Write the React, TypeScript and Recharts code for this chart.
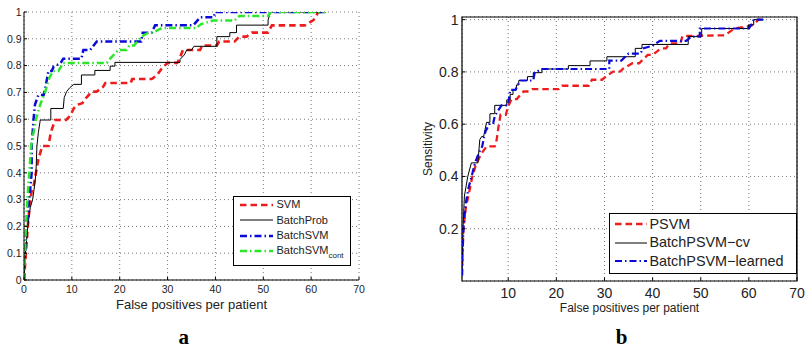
import type { ReactNode } from "react";
import {
  LineChart,
  Line,
  XAxis,
  YAxis,
  CartesianGrid,
  Legend,
  ReferenceArea,
  Label,
} from "recharts";

type Pt = [number, number]; // [false positives per patient, sensitivity]

// Panel a: four detectors
const svmA: Pt[] = [
  [0, 0], [0.4, 0.1], [0.8, 0.2], [1.2, 0.28], [1.6, 0.33], [2.0, 0.35], [2.5, 0.4],
  [3.0, 0.45], [3.8, 0.5], [5.1, 0.5], [5.6, 0.55], [6.5, 0.597], [8.8, 0.597],
  [9.6, 0.612], [10.4, 0.64], [11, 0.653], [12.2, 0.66], [13, 0.68], [14.2, 0.703],
  [15.2, 0.703], [16.5, 0.72], [17, 0.735], [22.3, 0.735], [22.6, 0.75], [26.7, 0.75],
  [27.8, 0.765], [28.8, 0.79], [30, 0.81], [32, 0.81], [32.5, 0.825], [33.2, 0.858],
  [36.8, 0.858], [37.2, 0.875], [40.3, 0.875], [40.8, 0.89], [44, 0.89], [45, 0.908],
  [46.5, 0.908], [47.6, 0.923], [51, 0.923], [51.8, 0.95], [58.7, 0.95], [60.5, 0.97],
  [61.5, 1], [63, 1],
];
const batchProbA: Pt[] = [
  [0, 0], [0.3, 0.1], [0.8, 0.2], [1.3, 0.27], [1.8, 0.3], [2.2, 0.35], [2.5, 0.4],
  [2.7, 0.5], [3.0, 0.55], [3.4, 0.597], [5.6, 0.597], [5.6, 0.64], [8.2, 0.64],
  [8.4, 0.68], [8.9, 0.703], [9.6, 0.718], [10.4, 0.73], [12, 0.73], [12, 0.765],
  [14.8, 0.765], [14.8, 0.782], [18, 0.782], [18, 0.798], [19, 0.798], [19, 0.812],
  [32.6, 0.812], [32.6, 0.823], [33.5, 0.84], [34, 0.858], [35, 0.858], [35.5, 0.872],
  [40.3, 0.872], [40.3, 0.908], [43, 0.908], [43, 0.923], [44.4, 0.923], [44.4, 0.951],
  [51, 0.951], [51, 0.97], [51.5, 1], [63, 1],
];
const batchSvmA: Pt[] = [
  [0, 0], [0.2, 0.1], [0.55, 0.2], [0.9, 0.27], [1.25, 0.33], [1.6, 0.4], [1.6, 0.5],
  [2.0, 0.6], [2.3, 0.655], [3.0, 0.69], [4.1, 0.69], [4.5, 0.72], [4.8, 0.75],
  [5.1, 0.78], [5.8, 0.78], [6.2, 0.796], [7.6, 0.808], [8.2, 0.826], [12, 0.826],
  [12.4, 0.858], [13.8, 0.858], [15.2, 0.89], [24.5, 0.89], [24.8, 0.923], [26.7, 0.923],
  [27.4, 0.951], [35.4, 0.951], [36.8, 0.98], [39.6, 0.98], [40, 1], [63, 1],
];
const batchSvmContA: Pt[] = [
  [0, 0], [0.2, 0.1], [0.4, 0.2], [0.7, 0.3], [1.1, 0.4], [1.5, 0.5], [2.5, 0.6],
  [3.3, 0.65], [4.4, 0.7], [5.3, 0.755], [6.1, 0.78], [7.2, 0.78], [8.2, 0.81],
  [17.3, 0.81], [18, 0.826], [19.7, 0.858], [21.4, 0.858], [22, 0.875], [23, 0.875],
  [24.5, 0.908], [26, 0.923], [27, 0.923], [28.8, 0.94], [36, 0.94], [37, 0.955],
  [39.5, 0.968], [44, 0.968], [45, 0.985], [51, 0.985], [51.5, 1], [63, 1],
];

// Panel b: PSVM variants
const psvmB: Pt[] = [
  [0.4, 0.02], [0.5, 0.1], [0.7, 0.2], [1.2, 0.28], [1.9, 0.34], [2.5, 0.395],
  [3.2, 0.44], [4.3, 0.484], [5.5, 0.515], [7.2, 0.515], [7.6, 0.54], [8, 0.592],
  [8.4, 0.636], [9.5, 0.636], [10, 0.669], [10.7, 0.696], [11.8, 0.696], [12.6, 0.714],
  [13.2, 0.725], [14.3, 0.725], [15, 0.734], [20.5, 0.734], [21.2, 0.747], [26.7, 0.747],
  [27.4, 0.77], [29.5, 0.77], [30.5, 0.785], [31.8, 0.801], [33.2, 0.801], [34, 0.814],
  [35.8, 0.833], [37.2, 0.833], [39, 0.865], [40, 0.865], [41.7, 0.89], [42.8, 0.89],
  [43.5, 0.909], [45.8, 0.909], [46.2, 0.937], [55, 0.94], [57, 0.966], [59.5, 0.973],
  [61, 0.98], [62, 1], [63, 1],
];
const batchPsvmCvB: Pt[] = [
  [0.4, 0.02], [0.5, 0.1], [0.6, 0.2], [0.9, 0.325], [1.6, 0.4], [2.35, 0.452],
  [3.7, 0.452], [4.1, 0.541], [4.5, 0.553], [4.9, 0.553], [5.5, 0.607], [6.2, 0.607],
  [6.2, 0.64], [7.2, 0.64], [7.2, 0.672], [9.7, 0.672], [9.7, 0.693], [10.4, 0.693],
  [10.4, 0.714], [11, 0.714], [11, 0.731], [11.7, 0.731], [11.7, 0.75], [12.2, 0.75],
  [12.2, 0.767], [14, 0.767], [14, 0.782], [15.2, 0.782], [15.2, 0.797], [17, 0.797],
  [17, 0.811], [22.5, 0.811], [22.5, 0.824], [27, 0.824], [27, 0.842], [30.5, 0.842],
  [30.5, 0.858], [36.4, 0.858], [36.4, 0.89], [37.8, 0.89], [37.8, 0.905], [47.4, 0.905],
  [47.4, 0.935], [50.2, 0.935], [50.2, 0.966], [59.9, 0.966], [59.9, 0.98], [61, 0.98],
  [61, 1], [63, 1],
];
const batchPsvmLearnedB: Pt[] = [
  [0.4, 0.02], [0.5, 0.1], [0.7, 0.2], [1.2, 0.3], [1.8, 0.36], [2.4, 0.4], [3.1, 0.452],
  [3.9, 0.49], [4.6, 0.515], [5, 0.553], [5.3, 0.573], [6.2, 0.605], [6.9, 0.605],
  [7.2, 0.63], [8, 0.655], [8.6, 0.672], [9.9, 0.672], [10.2, 0.7], [10.4, 0.731],
  [11.5, 0.731], [12, 0.75], [12.5, 0.767], [15.2, 0.767], [15.5, 0.797], [17, 0.811],
  [31, 0.811], [31, 0.843], [33.5, 0.843], [35, 0.87], [37.5, 0.87], [38, 0.89],
  [40, 0.9], [41.5, 0.919], [47, 0.919], [48, 0.935], [49.8, 0.935], [49.8, 0.966],
  [60, 0.966], [60.5, 0.98], [61, 1], [63, 1],
];

const xTicksA = [0, 10, 20, 30, 40, 50, 60, 70];
const yTicksA = [0, 0.1, 0.2, 0.3, 0.4, 0.5, 0.6, 0.7, 0.8, 0.9, 1];
const xTicksB = [10, 20, 30, 40, 50, 60, 70];
const yTicksB = [0.2, 0.4, 0.6, 0.8, 1];

const FONT = '"Liberation Sans", Arial, Helvetica, sans-serif';
const RED = "#ee1c1c";
const BLUE = "#0a0ad8";
const GREEN = "#2be62b";
const DASH = "6.5 4";
const DASH_DOT = "7 3 1.5 3";

interface Series {
  key: string;
  label: ReactNode;
  pts: Pt[];
  color: string;
  width: number;
  dash?: string;
}

const seriesA: Series[] = [
  { key: "svm", label: "SVM", pts: svmA, color: RED, width: 2.6, dash: DASH },
  { key: "batchProb", label: "BatchProb", pts: batchProbA, color: "#000", width: 1 },
  { key: "batchSvm", label: "BatchSVM", pts: batchSvmA, color: BLUE, width: 2.5, dash: DASH_DOT },
  {
    key: "batchSvmCont",
    label: (
      <>
        BatchSVM
        <span style={{ fontSize: 8, position: "relative", top: 4 }}>cont</span>
      </>
    ),
    pts: batchSvmContA,
    color: GREEN,
    width: 2.5,
    dash: DASH_DOT,
  },
];

const seriesB: Series[] = [
  { key: "psvm", label: "PSVM", pts: psvmB, color: RED, width: 2.3, dash: DASH },
  { key: "cv", label: "BatchPSVM−cv", pts: batchPsvmCvB, color: "#000", width: 1 },
  { key: "learned", label: "BatchPSVM−learned", pts: batchPsvmLearnedB, color: BLUE, width: 2.2, dash: DASH_DOT },
];

const toRows = (pts: Pt[]) => pts.map(([fp, sens]) => ({ fp, sens }));

// MATLAB-style ticks: short marks pointing into the plot, labels outside
function bottomTick(fontSize: number, gap: number, len: number) {
  return function BottomTick(props: any) {
    const { x, y, payload } = props;
    return (
      <g>
        <line x1={x} x2={x} y1={y} y2={y - len} stroke="#000" />
        <text x={x} y={y + gap} dy="0.71em" textAnchor="middle" fontSize={fontSize} fontFamily={FONT} fill="#222">
          {String(payload.value)}
        </text>
      </g>
    );
  };
}

function leftTick(fontSize: number, gap: number, len: number) {
  return function LeftTick(props: any) {
    const { x, y, payload } = props;
    return (
      <g>
        <line x1={x} x2={x + len} y1={y} y2={y} stroke="#000" />
        <text x={x - gap} y={y} dy="0.355em" textAnchor="end" fontSize={fontSize} fontFamily={FONT} fill="#222">
          {String(payload.value)}
        </text>
      </g>
    );
  };
}

// marks only, for the top and right edges of the boxed panel
const topMark = (len: number) =>
  function TopMark(props: any) {
    return <line x1={props.x} x2={props.x} y1={props.y} y2={props.y + len} stroke="#000" />;
  };
const rightMark = (len: number) =>
  function RightMark(props: any) {
    return <line x1={props.x} x2={props.x - len} y1={props.y} y2={props.y} stroke="#000" />;
  };

function LegendBox({
  series,
  width,
  height,
  rowH,
  fontSize,
  padTop,
  sampleLeft,
  sampleW,
  gap,
}: {
  series: Series[];
  width: number;
  height: number;
  rowH: number;
  fontSize: number;
  padTop: number;
  sampleLeft: number;
  sampleW: number;
  gap: number;
}) {
  return (
    <div
      style={{
        boxSizing: "border-box",
        width,
        height,
        border: "1.5px solid #000",
        background: "#fff",
        paddingTop: padTop,
        fontFamily: FONT,
        fontSize,
        color: "#222",
      }}
    >
      {series.map((s) => (
        <div key={s.key} style={{ display: "flex", alignItems: "center", height: rowH, whiteSpace: "nowrap" }}>
          <svg width={sampleW} height={6} style={{ marginLeft: sampleLeft, marginRight: gap, flex: "none" }}>
            <line x1={0} x2={sampleW} y1={3} y2={3} stroke={s.color} strokeWidth={s.width} strokeDasharray={s.dash} />
          </svg>
          <span style={{ lineHeight: `${rowH}px` }}>{s.label}</span>
        </div>
      ))}
    </div>
  );
}

function lines(series: Series[]) {
  return series.map((s) => (
    <Line
      key={s.key}
      data={toRows(s.pts)}
      dataKey="sens"
      name={s.key}
      type="linear"
      stroke={s.color}
      strokeWidth={s.width}
      strokeDasharray={s.dash}
      dot={false}
      activeDot={false}
      isAnimationActive={false}
    />
  ));
}

const caption = (text: string, cx: number) => (
  <div
    style={{
      position: "absolute",
      left: cx - 20,
      top: 327,
      width: 40,
      textAlign: "center",
      fontFamily: '"Liberation Serif", "Times New Roman", serif',
      fontWeight: "bold",
      fontSize: 21,
      lineHeight: "21px",
    }}
  >
    {text}
  </div>
);

export default function App() {
  return (
    <div style={{ position: "absolute", left: 0, top: 0, width: 812, height: 354, background: "#fff" }}>
      <div style={{ position: "absolute", left: 0, top: 0 }}>
        <LineChart width={405} height={354} margin={{ top: 12, right: 46, bottom: 24, left: 0 }}>
          <CartesianGrid stroke="#777" strokeDasharray="1 3" />
          <XAxis
            dataKey="fp"
            type="number"
            domain={[0, 70]}
            ticks={xTicksA}
            interval={0}
            allowDataOverflow
            height={50}
            tickSize={0}
            tickMargin={0}
            tickLine={false}
            axisLine={{ stroke: "#000" }}
            tick={bottomTick(10.5, 6, 3)}
          >
            <Label value="False positives per patient" position="insideTop" offset={20} fontSize={13} fontFamily={FONT} fill="#222" />
          </XAxis>
          <YAxis
            type="number"
            domain={[0, 1]}
            ticks={yTicksA}
            interval={0}
            allowDataOverflow
            width={24}
            tickSize={0}
            tickMargin={0}
            tickLine={false}
            axisLine={{ stroke: "#000" }}
            tick={leftTick(10.5, 2.5, 3)}
          />
          {lines(seriesA)}
          <Legend
            layout="horizontal"
            verticalAlign="middle"
            align="center"
            width={118}
            height={70}
            wrapperStyle={{ left: 233, top: 196, width: 118, height: 70 }}
            content={() => (
              <LegendBox series={seriesA} width={118} height={70} rowH={15.5} fontSize={11} padTop={0} sampleLeft={5.5} sampleW={33} gap={4} />
            )}
          />
        </LineChart>
      </div>

      <div style={{ position: "absolute", left: 405, top: 0 }}>
        <LineChart width={407} height={354} margin={{ top: 17, right: 15, bottom: 28, left: 0 }}>
          <CartesianGrid stroke="#777" strokeDasharray="1 3" />
          <XAxis
            dataKey="fp"
            type="number"
            domain={[0.4, 70]}
            ticks={xTicksB}
            interval={0}
            allowDataOverflow
            height={45}
            tickSize={0}
            tickMargin={0}
            tickLine={false}
            axisLine={false}
            tick={bottomTick(14, 7.3, 3.5)}
          >
            <Label value="False positives per patient" position="insideTop" offset={22.5} fontSize={12} fontFamily={FONT} fill="#222" />
          </XAxis>
          <XAxis
            xAxisId="top"
            orientation="top"
            dataKey="fp"
            type="number"
            domain={[0.4, 70]}
            ticks={xTicksB}
            interval={0}
            height={0}
            tickSize={0}
            tickMargin={0}
            tickLine={false}
            axisLine={false}
            tick={topMark(3.5)}
          />
          <YAxis
            type="number"
            domain={[0, 1.01]}
            ticks={yTicksB}
            interval={0}
            allowDataOverflow
            width={57}
            tickSize={0}
            tickMargin={0}
            tickLine={false}
            axisLine={false}
            tick={leftTick(14, 3.5, 3.5)}
          >
            <Label value="Sensitivity" position="center" angle={-90} dx={-6} fontSize={12} fontFamily={FONT} fill="#222" />
          </YAxis>
          <YAxis
            yAxisId="right"
            orientation="right"
            type="number"
            domain={[0, 1.01]}
            ticks={yTicksB}
            interval={0}
            width={0}
            tickSize={0}
            tickMargin={0}
            tickLine={false}
            axisLine={false}
            tick={rightMark(3.5)}
          />
          {lines(seriesB)}
          <ReferenceArea x1={0.4} x2={70} y1={0} y2={1.01} fill="none" stroke="#000" strokeWidth={1.2} ifOverflow="visible" />
          <Legend
            layout="horizontal"
            verticalAlign="middle"
            align="center"
            width={188}
            height={61}
            wrapperStyle={{ left: 204, top: 213, width: 188, height: 61 }}
            content={() => (
              <LegendBox series={seriesB} width={188} height={61} rowH={18.7} fontSize={14.4} padTop={0.5} sampleLeft={4.5} sampleW={32} gap={3} />
            )}
          />
        </LineChart>
      </div>

      {caption("a", 183.7)}
      {caption("b", 621.7)}
    </div>
  );
}
